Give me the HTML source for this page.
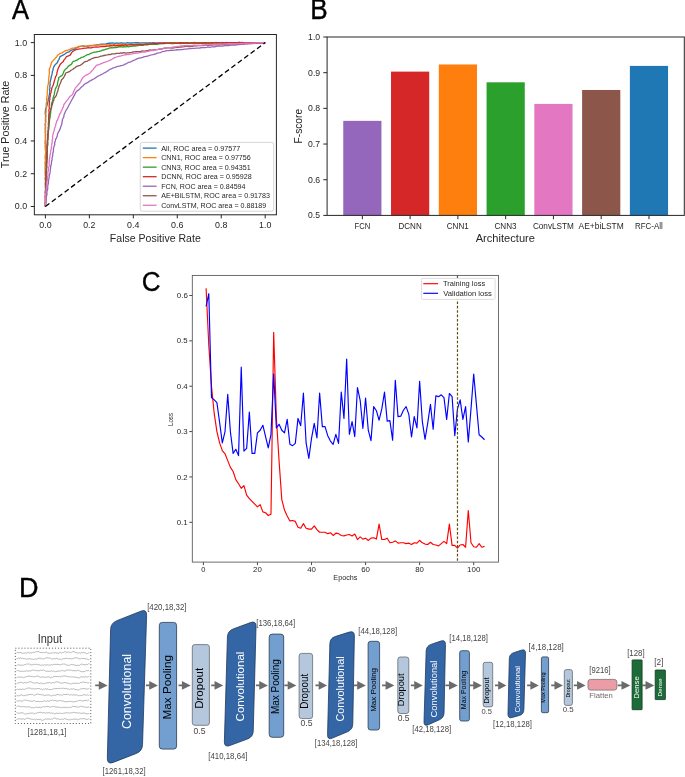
<!DOCTYPE html>
<html><head><meta charset="utf-8"><style>
html,body{margin:0;padding:0;background:#fff;width:685px;height:777px;overflow:hidden}
svg{display:block;font-family:"Liberation Sans",sans-serif;will-change:transform}
</style></head><body>
<svg width="685" height="777" viewBox="0 0 685 777">
<defs><clipPath id="clipA"><rect x="34.35" y="34.5" width="242.05" height="180.3"/></clipPath></defs>
<rect width="685" height="777" fill="#fff"/>
<text x="12.1" y="19.05" font-size="28.2" fill="#000" stroke="#000" stroke-width="0.5" textLength="17" lengthAdjust="spacingAndGlyphs">A</text>
<text x="310.26" y="19.2" font-size="29.07" fill="#000" stroke="#000" stroke-width="0.4" textLength="17.43" lengthAdjust="spacingAndGlyphs">B</text>
<text x="141.82" y="291.38" font-size="26.98" fill="#000" stroke="#000" stroke-width="0.3" textLength="18.82" lengthAdjust="spacingAndGlyphs">C</text>
<text x="18.88" y="596.8" font-size="27.76" fill="#000" stroke="#000" stroke-width="0.4" textLength="19.52" lengthAdjust="spacingAndGlyphs">D</text>
<line x1="30.75" y1="206.5" x2="34.35" y2="206.5" stroke="#262626" stroke-width="1"/>
<text x="14.86" y="209.42" font-size="8.48" fill="#262626" textLength="12.36" lengthAdjust="spacingAndGlyphs">0.0</text>
<line x1="45.4" y1="214.8" x2="45.4" y2="218.4" stroke="#262626" stroke-width="1"/>
<text x="39.22" y="228.12" font-size="8.48" fill="#262626" textLength="12.36" lengthAdjust="spacingAndGlyphs">0.0</text>
<line x1="30.75" y1="173.72" x2="34.35" y2="173.72" stroke="#262626" stroke-width="1"/>
<text x="14.86" y="176.64" font-size="8.48" fill="#262626" textLength="12.17" lengthAdjust="spacingAndGlyphs">0.2</text>
<line x1="89.36" y1="214.8" x2="89.36" y2="218.4" stroke="#262626" stroke-width="1"/>
<text x="83.19" y="228.12" font-size="8.48" fill="#262626" textLength="12.17" lengthAdjust="spacingAndGlyphs">0.2</text>
<line x1="30.75" y1="140.94" x2="34.35" y2="140.94" stroke="#262626" stroke-width="1"/>
<text x="14.86" y="143.86" font-size="8.48" fill="#262626" textLength="12.35" lengthAdjust="spacingAndGlyphs">0.4</text>
<line x1="133.32" y1="214.8" x2="133.32" y2="218.4" stroke="#262626" stroke-width="1"/>
<text x="127.14" y="228.12" font-size="8.48" fill="#262626" textLength="12.35" lengthAdjust="spacingAndGlyphs">0.4</text>
<line x1="30.75" y1="108.16" x2="34.35" y2="108.16" stroke="#262626" stroke-width="1"/>
<text x="14.86" y="111.08" font-size="8.48" fill="#262626" textLength="12.43" lengthAdjust="spacingAndGlyphs">0.6</text>
<line x1="177.28" y1="214.8" x2="177.28" y2="218.4" stroke="#262626" stroke-width="1"/>
<text x="171.1" y="228.12" font-size="8.48" fill="#262626" textLength="12.43" lengthAdjust="spacingAndGlyphs">0.6</text>
<line x1="30.75" y1="75.38" x2="34.35" y2="75.38" stroke="#262626" stroke-width="1"/>
<text x="14.86" y="78.3" font-size="8.48" fill="#262626" textLength="12.38" lengthAdjust="spacingAndGlyphs">0.8</text>
<line x1="221.24" y1="214.8" x2="221.24" y2="218.4" stroke="#262626" stroke-width="1"/>
<text x="215.06" y="228.12" font-size="8.48" fill="#262626" textLength="12.38" lengthAdjust="spacingAndGlyphs">0.8</text>
<line x1="30.75" y1="42.6" x2="34.35" y2="42.6" stroke="#262626" stroke-width="1"/>
<text x="14.88" y="45.52" font-size="8.48" fill="#262626" textLength="12.33" lengthAdjust="spacingAndGlyphs">1.0</text>
<line x1="265.2" y1="214.8" x2="265.2" y2="218.4" stroke="#262626" stroke-width="1"/>
<text x="259.04" y="228.12" font-size="8.48" fill="#262626" textLength="12.33" lengthAdjust="spacingAndGlyphs">1.0</text>
<text transform="translate(8.91,168.24) rotate(-90)" x="0" y="0" font-size="10.39" fill="#262626" textLength="87.52" lengthAdjust="spacingAndGlyphs">True Positive Rate</text>
<text x="109.85" y="242.11" font-size="10.39" fill="#262626" textLength="90.93" lengthAdjust="spacingAndGlyphs">False Positive Rate</text>
<g clip-path="url(#clipA)">
<polyline points="45.4,206.5 45.4,204.96 45.4,203.43 45.4,201.89 45.4,200.35 45.4,198.82 45.24,197.31 45.32,195.81 45.48,193.95 45.11,192.87 45.26,190.97 45.7,189.58 45.6,188.05 45.48,186.32 45.48,185.21 45.41,183.6 45.5,181.65 45.55,180.43 45.28,178.56 45.62,177.29 45.53,176 45.53,174.48 45.34,172.88 45.37,171.42 45.63,169.38 45.18,167.92 45.68,166.51 45.48,164.89 45.4,163.41 45.31,161.99 45.45,160.65 45.51,159.12 45.4,157.33 45.61,156.09 45.5,154.07 45.62,153.02 45.64,151.25 45.53,149.51 45.6,148.2 45.27,146.36 45.61,145.39 45.15,143.74 45.35,141.82 45.28,140.66 45.62,138.7 45.47,137.17 45.53,135.81 45.63,134.67 45.4,133.15 45.29,131.07 45.46,129.51 45.22,128.21 45.47,126.53 45.13,125.43 45.29,123.95 45.64,122.07 45.38,120.63 45.49,119.14 45.44,117.63 45.66,116.03 45.36,114.63 45.24,112.85 45.4,111.44 45.51,108.9 46.54,107.16 47,105.41 47.43,103.55 47.74,102.32 48.19,100.7 48.18,99.13 48.83,97.16 49.11,95.77 49.42,94.06 49.6,92.51 49.81,91.15 49.48,89.24 49.96,88.28 49.79,86.48 50.08,84.9 50.03,83.39 50.19,82 50.56,80.06 51.09,78 51.31,76.43 51.92,74.71 52.13,73.64 52.31,71.83 52.94,70.33 53.09,68.99 53.66,67.15 54.61,65.38 56.17,63.7 57.49,62.5 57.99,60.95 58.9,59.56 59.52,57.95 59.91,56.7 61.56,55.88 63.4,54.89 65.03,54.04 66.03,53.03 67.61,52.25 69.18,51.82 70.39,50.8 71.57,50.03 73.32,49.63 74.69,48.82 75.66,48.16 77.43,47.52 78.53,46.98 80,46.4 81.6,46.22 83.55,45.93 84.65,46.28 86.83,46.17 88.21,46.02 90.16,45.45 91.7,45.69 93.3,45.36 94.86,45.22 96.27,44.93 97.77,44.57 99.52,44.5 101.2,44.16 102.55,44.24 104.44,44.07 106.1,43.9 107.73,43.42 109.14,43.09 110.38,43.23 112,42.96 113.83,43.09 115.21,43.33 116.85,42.96 118.17,43.27 119.83,43.21 121.29,42.85 122.92,43.22 124.24,43.2 126.21,43.2 127.68,42.71 129.1,43.22 130.28,42.85 131.94,43 133.56,42.96 135.3,42.67 136.4,42.74 137.97,42.7 140.01,43.16 141,42.94 142.67,42.82 144.31,42.93 145.75,43.01 147.41,42.84 148.7,42.81 150.19,42.94 152.07,42.83 153.22,42.71 154.92,42.96 156.69,42.82 158.23,42.96 159.53,42.81 161.1,43 162.58,42.99 164.13,42.72 165.7,42.98 166.95,42.81 168.69,43.08 170.52,42.77 172.02,43.02 173.17,42.82 174.61,43.02 176.46,43.06 178.07,42.93 179.56,42.86 180.71,42.87 182.17,42.6 184.16,42.54 185.28,42.56 187.28,42.61 188.29,43 189.87,43 191.73,42.99 193.43,42.83 194.86,42.5 196.37,42.78 197.86,42.53 199.26,42.76 200.94,43.02 202.06,42.65 203.9,42.95 205.24,42.56 206.78,42.81 208.61,42.68 209.91,42.68 211.44,42.68 212.81,42.73 214.88,42.67 216.28,42.52 217.78,42.87 219.3,42.72 220.72,42.8 222.5,42.5 223.55,42.85 225.58,42.71 226.83,42.83 228.21,42.55 229.75,42.74 231.35,42.52 233.11,42.95 234.41,42.8 236.01,42.88 237.65,42.53 238.96,42.38 240.65,42.59 242,42.57 243.73,42.65 245.26,42.65 246.8,42.65 248.33,42.64 249.87,42.64 251.4,42.63 252.93,42.63 254.47,42.63 256,42.62 257.53,42.62 259.07,42.62 260.6,42.61 262.13,42.61 263.67,42.6 265.2,42.6" fill="none" stroke="#1f77b4" stroke-width="1.3" stroke-linejoin="round"/>
<polyline points="45.4,206.5 45.4,204.99 45.4,203.47 45.4,201.96 45.4,200.44 45.4,198.93 45.29,197.58 45.19,196.19 45.39,194.44 45.38,193.07 45.59,191.39 45.39,189.97 45.61,188.26 45.54,187.09 45.38,185.13 45.24,183.91 45.51,182.54 45.61,180.6 45.21,179.09 45.21,177.84 45.62,176.45 45.25,174.91 45.29,173.13 45.54,171.42 45.16,170.35 45.28,168.55 45.45,167.22 45.1,165.51 45.36,164.08 45.23,162.63 45.67,161 45.43,159.32 45.26,158.13 45.17,156.75 45.4,155 45.65,153.26 45.66,151.93 45.56,150.66 45.28,149.11 45.49,147.69 45.26,146.15 45.68,144.6 45.42,142.77 45.4,141.41 45.53,140.11 45.44,138.31 45.49,137.08 45.21,135.73 45.49,133.77 45.4,132.5 45.7,130.69 45.37,129.45 45.57,127.76 45.63,126.11 45.47,124.35 45.36,123.08 45.8,121.39 45.83,119.68 45.58,118.11 45.98,116.31 45.8,114.99 45.9,113.19 46.16,111.6 46,109.97 46.22,108.54 46.21,106.93 46.16,104.92 46.26,103.17 46.76,101.89 46.7,100.1 46.64,98.24 46.9,96.9 47.27,95.23 47.27,93.2 47.28,91.55 47.49,90.11 47.6,88.39 47.61,86.51 48.16,84.65 48.36,83.43 48.64,81.4 48.6,79.78 48.76,78 48.98,76.69 49.15,74.68 49.4,73.19 49.38,71.74 49.16,70.16 49.6,68.4 50.24,66.99 50.69,65.57 51.04,64.22 51.48,62.8 52.3,61.4 53.46,60.2 54.47,59.34 55.74,57.68 56.74,56.81 57.36,55.48 58.7,54.4 59.94,53.39 61.53,53.15 62.8,52.36 64.42,51.17 65.71,50.63 67.67,50.09 69.46,49.55 71.1,48.72 72.7,48.21 74.34,48.1 75.83,47.45 77.23,47.11 78.3,46.49 80,46.4 81.33,46.12 82.97,46.19 84.89,46.1 86.31,46.06 87.83,45.84 89.69,45.7 90.94,45.89 92.85,45.46 94.23,45.45 95.96,45.16 97.49,45.22 98.77,45.01 100.81,44.93 102.19,44.93 103.61,44.87 105.3,44.83 106.64,44.76 108.3,44.95 109.81,44.63 111.61,44.83 113.34,44.57 114.73,44.74 116.08,45.05 117.93,44.73 119.32,44.47 121.02,44.49 122.66,44.58 123.91,44.38 125.83,44.5 127.42,44.59 129.05,44.48 130.2,44.44 132.09,44.63 133.36,44.29 135.11,44.8 136.61,44.2 137.82,44.23 139.46,44.18 140.94,44.53 143,44.24 144.31,44.4 146.16,44.31 147.63,44.49 149.28,43.88 150.47,44.14 152.43,43.75 153.61,44.12 155.07,43.76 156.77,43.86 158.7,43.47 160.15,43.72 161.78,43.53 163.4,43.34 164.67,43.18 166.29,43.26 168.03,43.23 169.29,43.03 171.13,43.27 172.7,43.13 174.13,42.97 175.84,42.88 177.26,43.3 178.96,42.89 180.26,43.32 182.08,43.33 183.78,43.05 185.37,43.21 186.6,42.97 188.01,42.98 190.11,42.78 191.45,42.77 192.73,43.08 194.39,42.7 195.91,43.05 197.74,42.65 199.26,42.93 200.63,43.2 202.16,42.95 203.81,43.07 205.46,43.07 206.95,42.7 208.27,42.63 210.19,42.64 211.24,43.15 212.88,43.1 214.35,42.83 215.96,43.04 217.73,42.92 219.35,43.05 220.64,42.88 222.23,42.58 224,42.86 225.52,42.62 226.89,42.77 228.53,42.53 229.84,42.77 231.21,42.8 233.14,42.71 234.62,42.82 235.89,42.66 237.89,42.64 239.09,42.48 240.49,42.52 242.46,42.85 243.73,42.71 245.26,42.7 246.8,42.69 248.33,42.68 249.87,42.68 251.4,42.67 252.93,42.66 254.47,42.65 256,42.65 257.53,42.64 259.07,42.63 260.6,42.62 262.13,42.62 263.67,42.61 265.2,42.6" fill="none" stroke="#ff7f0e" stroke-width="1.3" stroke-linejoin="round"/>
<polyline points="45.4,206.5 45.44,204.94 45.48,203.38 45.53,201.82 45.57,200.26 45.61,198.7 45.88,197.43 45.76,195.83 45.76,193.96 46.05,192.69 46.09,190.88 46.02,189.27 46.2,188.02 45.82,186.47 45.8,184.4 46.16,182.96 46.08,181.61 45.84,180.11 46.02,178.36 46.1,176.99 46.39,175.15 46.28,173.72 46.1,172.04 46.35,170.35 46.25,169.2 46.64,167.77 46.87,166.15 46.57,164.16 46.59,162.78 46.78,161.27 46.74,159.89 46.75,158.1 47.18,156.75 47,155 46.96,153.35 47.35,151.71 47.02,150.52 47.34,148.8 47.13,147.32 47.64,145.98 47.85,144.67 47.93,142.72 47.53,141.21 47.76,139.9 47.61,138.53 47.71,136.89 47.88,135.68 48.06,133.86 48.19,132.5 48.1,130.87 48.63,129.42 48.98,127.91 48.77,125.92 49.26,124.72 49.29,123.15 49.5,121.23 49.45,119.48 49.91,118.42 50.25,116.57 50.19,114.99 50.48,113.75 50.76,112.06 50.71,110.51 50.75,108.81 51.25,107.79 51.36,105.94 51.43,104.47 51.71,103 52.31,101.52 52.83,99.89 52.87,98.66 53.4,97.2 53.71,95.89 54.32,94.42 54.55,92.36 54.89,91.15 55.2,89.61 55.96,87.7 56.87,86.31 57.51,84.3 57.57,82.72 58.03,80.95 58.64,79.54 58.7,77.59 60.39,76.41 61.91,75.59 62.96,73.87 63.43,72.73 64.19,70.87 65.09,69.48 66.81,68.3 68,66.59 69.63,65.38 71.49,64.3 72.26,62.63 73.29,61.4 75.2,60.94 77.4,59.91 78.45,58.99 80,58.4 81.27,57.42 82.91,57.1 84.55,56.3 85.8,55.5 87.46,54.65 88.6,54.68 89.94,53.71 91.65,53.16 93.15,52.48 94.59,52.2 96.02,52.11 97.55,51.72 99.16,51.4 101.04,50.83 102.31,50.11 104.11,50.01 105.96,49.21 107.32,49 109.21,48.21 111.19,47.72 113,47.79 114.41,47.31 116.18,47.62 118,47.11 119.37,46.8 120.79,46.71 122.41,47.09 123.75,46.57 125.76,46.96 127.29,46.43 128.41,46.76 130,46.4 131.58,46.36 133.07,45.78 134.68,46.05 136.53,45.77 137.93,45.59 139.51,45.42 141.33,45.05 142.78,45.32 144.31,44.89 146.09,44.6 147.73,44.89 148.82,44.44 150.41,44.2 152.45,44.31 153.95,44.03 155.01,44.38 157.05,44.35 158.55,43.96 160.17,43.6 161.6,43.7 162.94,43.69 164.61,43.53 166.29,43.42 167.78,43.29 169.35,43.45 171.29,43.63 172.79,43.56 174.01,43.63 175.57,43.1 177.28,43.45 178.75,43.38 180.29,43.56 181.96,43.25 183.58,43.47 185.42,43.25 186.66,43.29 188.01,43.16 190.05,43.35 191.15,43.38 192.91,43.44 194.47,42.97 196.15,43.35 197.65,43.33 199.26,43.09 200.92,43 202.21,43.07 203.8,42.98 205.48,43.27 206.98,42.82 208.29,42.95 210.06,42.8 211.28,42.89 212.93,42.71 214.62,43.23 216.15,43.11 217.86,43.16 219.44,42.91 220.84,42.7 222.49,42.85 223.78,43.14 225.2,42.71 227.06,42.95 228.15,42.59 229.84,42.57 231.66,42.66 232.86,42.77 234.54,42.79 236.14,42.91 237.56,42.56 239.42,42.91 240.41,42.75 242.35,43.07 243.73,42.76 245.26,42.75 246.8,42.74 248.33,42.73 249.87,42.71 251.4,42.7 252.93,42.69 254.47,42.68 256,42.67 257.53,42.66 259.07,42.65 260.6,42.63 262.13,42.62 263.67,42.61 265.2,42.6" fill="none" stroke="#2ca02c" stroke-width="1.3" stroke-linejoin="round"/>
<polyline points="45.4,206.5 45.43,204.94 45.46,203.38 45.49,201.82 45.53,200.26 45.56,198.7 45.33,196.84 45.61,195.53 45.89,194.21 45.58,192.4 45.76,191.12 45.57,189.26 45.53,187.85 45.52,186.47 45.85,184.69 45.62,182.93 45.88,181.74 45.96,179.83 46.25,178.5 46.01,176.66 45.91,175.52 46.06,173.72 45.92,172.18 46.29,170.51 46.46,169.29 46.59,167.62 46.28,165.66 46.49,164.25 46.43,163.02 46.52,161.44 47.03,159.45 47.1,158.06 46.75,156.37 47,155 46.77,153.46 47.02,152.13 47.33,150.11 47.11,148.77 47.02,147.15 47.11,145.88 47.29,144.22 47.32,142.31 47.38,140.84 47.72,139.04 47.93,137.35 48.04,135.91 47.87,134.32 48.19,132.5 48.18,130.93 48.36,129.39 48.32,127.46 48.59,126.35 48.47,124.59 48.39,123.19 48.69,121.19 48.83,120.06 48.6,118.47 48.74,116.39 48.81,114.99 49.01,113.35 49.08,111.96 48.78,110.38 49.29,108.81 49.18,107.5 49.19,105.73 49.29,104.19 49.49,102.74 49.41,100.65 49.9,99.28 49.77,97.83 50.27,95.97 50.19,94.29 50.99,92.73 51.35,90.64 51.71,89 51.99,87.51 52.99,85.71 53.41,84.23 53.99,82.59 54.25,81.18 54.84,79.46 55.2,78 55.67,76.54 56.61,75 56.94,72.98 57.49,70.69 57.9,69.18 58.52,67.74 59.35,66.11 59.91,64.89 60.8,63.73 62.06,62.6 63.4,61.45 64.17,59.62 65.36,58.53 66.3,56.7 68.57,55.8 70.39,54.89 71.48,52.91 72.7,51.45 74.31,50.46 76.19,49.7 78.36,49.07 80,48.89 81.89,48.68 83.2,48.35 85.14,48.11 86.53,48.11 87.92,47.74 90.02,47.88 91.49,47.75 92.73,47.43 94.59,47.11 96.37,46.82 97.81,47.14 99.36,46.89 100.89,46.71 102.57,46.49 104.26,46.59 106.11,46.24 107.7,46.07 109.21,45.99 110.99,45.76 112.43,45.88 113.94,45.47 115.41,45.74 117.03,45.73 118.81,45.76 120.61,45.54 121.93,45.04 123.64,45.38 125.46,44.97 126.6,45.35 128.55,44.97 130,44.89 131.73,44.63 133.21,44.89 134.83,44.53 136.14,44.75 138.18,44.4 139.24,44.32 141.3,44.45 142.69,44.75 144.31,44.4 145.95,44.17 147.57,43.92 148.89,44.24 150.39,43.75 152.17,43.83 154.01,43.6 155.48,43.68 157.05,43.62 158.54,43.46 159.84,43.44 161.76,43.28 162.99,43.23 164.48,43.07 166.29,43.09 167.9,43.11 169.49,42.95 170.71,42.78 172.47,42.88 174.18,42.91 175.87,43.11 177.38,43.18 178.86,42.99 180.31,42.76 182.17,43.01 183.32,43.26 185.18,43.07 186.66,42.77 188.57,42.78 189.76,43.27 191.18,42.97 192.97,42.81 194.8,42.9 195.83,42.93 197.39,43.06 199.26,42.93 201.01,43.16 202.06,43.02 203.74,42.89 205.27,42.78 206.71,42.97 208.21,43.16 209.72,43.15 211.34,42.62 213.21,42.88 214.76,42.86 216.21,42.59 217.77,42.84 219.47,42.53 220.47,42.93 222.52,42.77 223.92,42.84 225.26,42.78 226.92,42.51 228.28,42.93 229.78,42.76 231.32,42.68 233.09,42.91 234.8,42.74 235.89,42.65 237.33,42.58 239.18,42.8 240.51,42.53 241.96,42.52 243.73,42.71 245.26,42.7 246.8,42.69 248.33,42.68 249.87,42.68 251.4,42.67 252.93,42.66 254.47,42.65 256,42.65 257.53,42.64 259.07,42.63 260.6,42.62 262.13,42.62 263.67,42.61 265.2,42.6" fill="none" stroke="#d62728" stroke-width="1.3" stroke-linejoin="round"/>
<polyline points="45.4,206.5 45.56,205 45.73,203.5 45.89,202 46.06,200.5 46.22,199 46.39,197.5 46.6,195.79 47.04,194.42 46.93,192.78 46.96,191.4 47.59,189.62 47.79,188 47.7,186.42 47.9,185.08 48.37,183.6 48.5,181.9 48.49,180.47 48.94,178.65 49.18,177.09 49.22,175.48 49.71,174.09 50.1,172.19 50.31,170.96 50.3,169.2 50.7,167.91 50.62,166.21 51.34,164.24 51.42,163.16 51.51,161.52 52.14,159.69 51.95,157.99 52.63,156.53 52.7,155 52.82,153.3 53.42,151.52 53.4,150 53.47,148.53 54.01,146.45 54.77,144.65 54.59,143.27 55.2,141.3 55.62,139.38 56.61,137.64 57.16,135.95 57.49,134.3 58.1,132.66 58.97,131.39 59.6,129.88 60.39,128.4 60.72,126.85 61.55,125.05 61.93,122.9 62.19,121.4 62.49,119.62 62.89,118.48 63.79,116.85 64,114.99 64.8,113.1 65.49,111.4 66.3,110 67.51,108.12 68.11,106.8 69.2,104.8 69.9,103.45 70.84,101.69 71.59,100.23 72.7,98.39 73.51,96.68 74.54,95.2 75.17,93.3 76.19,91.9 77.4,90.65 78.75,89.87 79.69,89 80.65,87.81 81.78,86.72 83.2,85.69 84.23,84.53 85.49,83.57 86.87,82.95 88.22,82.14 89.64,80.96 90.83,80.6 92.4,79.52 93.81,79.01 95.18,78 96.6,77.09 98.08,76.04 99.67,75.49 101.13,74.64 102.6,73.97 104.11,73 105.37,72.44 106.77,71.52 108.25,70.63 109.75,69.35 111.37,68.96 112.79,67.91 114.62,67.69 116.32,66.76 117.58,66.35 119.43,66.12 120.9,65.71 122.56,65.29 124.23,64.61 125.68,63.94 126.72,63.54 128.24,62.46 130,62.1 131.84,61.23 133.38,60.34 134.75,60.01 136.28,59.15 138.2,58.4 139.92,57.87 141.24,57.83 142.64,57.49 144.15,56.68 145.3,56.63 147.22,56.08 148.4,55.89 149.92,55.23 151.55,54.97 152.83,54.67 154.07,54.26 155.94,53.9 157.1,53.08 158.71,52.79 160.28,52.53 162.22,51.73 164.04,51.41 165.81,50.8 167.36,50.57 169.29,50.71 170.67,50.16 172.71,50.43 174.17,50.11 176.06,50 177.27,49.68 179.1,49.8 180.71,49.67 182.42,49.7 184.29,49.22 186,49.12 187.67,48.88 189.3,48.7 191.06,48.59 192.98,48.32 194.7,48.28 196.48,48.05 198.01,48.21 199.76,47.99 201.65,47.67 203.14,47.44 205.08,47.53 206.8,47.3 208.04,46.98 209.71,47.32 211.4,46.96 212.85,46.88 214.7,46.76 215.76,46.49 217.6,46.13 219.32,46.17 220.56,46.22 222.28,46.01 223.99,45.9 225.22,45.5 226.89,45.55 228.41,45.5 229.96,45.29 231.18,44.98 232.8,44.89 234.75,45.07 235.91,45.02 237.68,44.51 239.29,44.49 240.97,44.32 242.07,44.26 243.74,44.29 245.27,44.17 246.8,44.05 248.34,43.93 249.87,43.81 251.4,43.69 252.94,43.57 254.47,43.45 256,43.33 257.53,43.2 259.07,43.08 260.6,42.96 262.13,42.84 263.67,42.72 265.2,42.6" fill="none" stroke="#9467bd" stroke-width="1.3" stroke-linejoin="round"/>
<polyline points="45.4,206.5 45.44,204.94 45.48,203.38 45.53,201.82 45.57,200.26 45.61,198.7 45.87,197.33 45.74,195.36 45.69,194.13 45.51,192.7 46.02,191.15 45.98,189.4 46.19,187.63 45.83,185.98 45.79,184.83 45.79,183.23 46.01,181.75 46.27,180.08 46.36,178.13 46.05,176.76 46.19,175.38 46.28,173.72 46.57,172.3 46.66,170.72 46.37,169.05 46.67,167.67 46.5,165.83 46.71,164.2 46.93,162.5 46.85,161.23 46.64,159.72 46.87,158.4 47.17,156.61 47,155 47.27,153.69 46.89,152.11 47.33,150.67 47.32,148.77 47.03,147.38 47.08,145.9 47.29,144.2 47.46,142.73 47.46,140.74 47.92,139.28 47.73,137.55 47.9,135.93 48.07,134.04 48.19,132.5 48.56,131.14 48.51,129.18 48.25,127.86 48.71,126.23 48.43,124.67 48.7,122.88 48.82,121.33 48.94,119.92 49.22,117.94 49.05,116.85 49.09,114.99 49.91,112.41 50.45,110.98 51.02,109.17 51.43,108.05 51.71,106.5 52.22,104.77 52.69,103.03 53.1,101.49 53.8,100.2 53.99,98.39 55.18,97.04 56.39,95.39 56.78,93.89 57.11,92.57 57.93,91 57.99,89.51 58.7,87.8 58.99,86.22 59.85,84.29 60.39,83.17 61.09,81.2 61.6,79.69 63.4,78 64.36,76.25 65.18,74.61 65.71,73 67.5,72.43 69.8,71.3 70.99,70.25 72.7,69.5 74.03,68.3 75.06,67.78 76.19,66.59 78.15,65.91 80,65.4 81.62,64.5 82.97,63.28 84.39,62.1 85.74,61.42 87.6,61.13 88.46,60.03 90.06,59.76 91.5,58.76 93.29,58.13 94.59,57.7 96.46,57.3 98,57.15 99.17,56.77 100.89,56.06 102.25,55.99 104.11,55.5 105.69,55.11 107.41,54.77 108.72,54.43 110.22,54.63 111.86,53.92 113.25,53.94 114.82,53.81 116.51,53.3 117.74,53.45 119.58,53.34 120.92,52.81 122.31,53.07 123.72,52.68 125.67,53.06 127.22,52.96 128.53,52.9 130,52.6 131.65,52.44 133.02,51.93 134.35,51.87 136.11,51.61 137.95,51.69 139.34,51.69 140.57,51.49 142.54,50.93 143.57,51.06 145.57,50.86 146.81,50.56 148.4,50.3 149.75,49.95 151.51,50.07 152.9,49.99 154.45,49.82 156.15,49.54 158.08,49.43 159.46,49.09 160.93,48.98 162.41,48.82 164.28,48.13 165.81,48.21 167.6,47.97 168.61,47.81 170.12,47.7 172.06,48 173.55,47.79 175.2,47.58 176.47,47.18 177.86,47.23 179.43,47.22 181.03,47 182.7,46.9 184.2,46.7 185.53,46.44 187.38,46.3 188.91,46.64 190.27,46.53 191.94,46.41 193.42,46.18 195.05,45.74 196.48,45.86 198.01,45.7 199.54,45.71 201.36,45.71 202.86,45.24 204.35,45.45 206.05,44.99 207.14,45.5 208.82,45.25 210.51,44.99 211.97,45 213.85,44.91 215.29,44.69 216.8,44.79 218.38,44.87 219.53,44.84 221.41,44.34 222.88,44.16 224.29,44.52 226.13,44.46 227.36,43.92 229.05,44.07 230.8,43.87 232.23,43.91 233.94,43.9 235.24,43.96 236.68,43.78 238.32,43.39 240.07,43.61 241.72,43.46 243.22,43.47 244.79,43.41 246.36,43.35 247.93,43.29 249.5,43.22 251.07,43.16 252.64,43.1 254.21,43.04 255.78,42.97 257.35,42.91 258.92,42.85 260.49,42.79 262.06,42.72 263.63,42.66 265.2,42.6" fill="none" stroke="#8c564b" stroke-width="1.3" stroke-linejoin="round"/>
<polyline points="45.4,206.5 45.44,204.92 45.48,203.35 45.52,201.77 45.55,200.2 45.59,198.62 45.89,197.22 45.46,195.17 45.71,193.9 46.16,192.3 45.82,190.62 46.35,189.07 46.33,187.83 46.49,186.27 47.02,184.81 47.01,183.17 46.99,181.63 47.37,180.05 47.45,178.61 47.45,177.04 48.09,175.09 47.83,174.12 47.9,172.47 48.37,170.48 48.5,169.2 48.77,167.32 49.08,165.92 49.32,164.7 49.03,162.83 49.23,161.47 49.38,159.48 49.59,158.37 49.85,156.47 50.19,155 50.41,153.43 50.65,152.07 50.85,150.19 51.42,148.45 51.26,147.2 51.71,145.4 51.78,143.97 52.27,141.99 52.16,140.16 52.67,138.7 52.53,136.87 52.81,135.4 53.07,134.04 53.44,132.26 54.16,130.66 54.52,129 54.76,127.67 55.61,125.93 55.8,124.3 56.23,123 56.78,121 57.62,119.85 58.17,117.86 59,116.34 59.29,114.99 59.92,113.91 60.92,112.4 61.21,111.09 62.19,109.5 62.71,107.74 63.52,106.81 63.65,105.05 64.5,103.6 65.68,102.22 66.26,101.21 67.29,100.06 68.48,98.69 69.2,97.2 70.49,96.04 71.65,95.31 72.7,94.29 73.27,92.86 73.74,91.16 74.68,89.79 75.01,88.39 75.94,87.38 77.35,85.9 78.42,84.29 79.69,83.2 80.39,81.95 81.16,80.54 81.98,79.08 82.9,77.4 84.16,76.48 85.59,75.43 87.29,74.68 88.76,73.71 90.2,73 91.07,71.68 92.41,70.32 93.1,69.57 94.18,67.99 95.42,66.69 96.11,65.71 97.34,64.87 98.96,64.82 100.31,63.92 101.89,63.5 103.53,62.66 104.53,62.43 106.03,61.77 107.53,61.24 109.21,60.6 110.88,59.85 111.99,59.23 113.71,58.18 114.89,57.65 116.51,57.01 117.97,56.51 119.52,56.14 121.13,55.84 122.18,55.31 123.8,55.2 125.13,54.76 127.13,54.6 128.42,54.66 130,54.11 131.81,54.03 132.91,53.54 134.6,53.26 136.04,53 137.51,53.09 139.26,52.67 140.72,52.54 142.38,51.95 144,51.98 145.24,52.05 147.02,51.45 148.4,51.3 149.6,50.98 151.34,50.66 152.63,50.5 154.21,50.33 155.87,49.77 157.54,49.58 158.58,49.2 160.06,49.01 162.06,49.03 163.4,48.28 164.8,48.21 166.13,47.83 167.7,47.9 168.99,47.62 170.72,47.53 172.46,47.18 173.81,46.91 175.22,46.94 176.47,46.67 178.23,46.28 179.57,46.47 181.13,45.9 182.58,45.9 184.2,45.7 185.68,45.55 187.16,45.42 188.81,45.59 190.09,45.53 191.76,45.71 193.67,45.15 195.06,45.22 196.24,45.49 198.01,45.21 199.81,45.31 201.2,45.36 202.71,45.11 204.32,45.16 206,44.76 207.17,44.84 208.95,44.65 210.67,44.88 212.12,44.63 213.68,44.36 215.3,44.25 216.92,44.49 218.1,44.16 219.85,44.26 221.46,43.97 223.12,44.1 224.42,44.22 226.07,43.98 227.44,43.93 228.84,43.73 230.87,43.59 232.23,43.75 233.55,43.9 235.29,43.66 236.99,43.71 238.4,43.69 239.78,43.68 241.54,43.49 243.22,43.36 244.79,43.31 246.36,43.26 247.93,43.2 249.5,43.15 251.07,43.09 252.64,43.04 254.21,42.98 255.78,42.93 257.35,42.87 258.92,42.82 260.49,42.76 262.06,42.71 263.63,42.65 265.2,42.6" fill="none" stroke="#e377c2" stroke-width="1.3" stroke-linejoin="round"/>
<line x1="45.4" y1="206.5" x2="265.2" y2="42.6" stroke="#000" stroke-width="1.3" stroke-dasharray="5,3"/>
</g>
<rect x="34.35" y="34.5" width="242.05" height="180.3" rx="0" fill="none" stroke="#262626" stroke-width="1"/>
<rect x="140.3" y="142.4" width="133.4" height="68.8" rx="2" fill="#ffffff" stroke="#cccccc" stroke-width="0.8" fill-opacity="0.8"/>
<line x1="142.8" y1="148.1" x2="156.6" y2="148.1" stroke="#1f77b4" stroke-width="1.3"/>
<text x="161.24" y="150.56" font-size="6.89" fill="#262626" textLength="79.15" lengthAdjust="spacingAndGlyphs">All, ROC area = 0.97577</text>
<line x1="142.8" y1="157.63" x2="156.6" y2="157.63" stroke="#ff7f0e" stroke-width="1.3"/>
<text x="161.2" y="159.99" font-size="6.89" fill="#262626" textLength="89.63" lengthAdjust="spacingAndGlyphs">CNN1, ROC area = 0.97756</text>
<line x1="142.8" y1="167.16" x2="156.6" y2="167.16" stroke="#2ca02c" stroke-width="1.3"/>
<text x="161.2" y="169.52" font-size="6.89" fill="#262626" textLength="89.47" lengthAdjust="spacingAndGlyphs">CNN3, ROC area = 0.94351</text>
<line x1="142.8" y1="176.69" x2="156.6" y2="176.69" stroke="#d62728" stroke-width="1.3"/>
<text x="161.25" y="179.05" font-size="6.89" fill="#262626" textLength="90.4" lengthAdjust="spacingAndGlyphs">DCNN, ROC area = 0.95928</text>
<line x1="142.8" y1="186.22" x2="156.6" y2="186.22" stroke="#9467bd" stroke-width="1.3"/>
<text x="161.25" y="188.58" font-size="6.89" fill="#262626" textLength="84.25" lengthAdjust="spacingAndGlyphs">FCN, ROC area = 0.84594</text>
<line x1="142.8" y1="195.75" x2="156.6" y2="195.75" stroke="#8c564b" stroke-width="1.3"/>
<text x="161.24" y="198.21" font-size="6.89" fill="#262626" textLength="108.67" lengthAdjust="spacingAndGlyphs">AE+BiLSTM, ROC area = 0.91783</text>
<line x1="142.8" y1="205.28" x2="156.6" y2="205.28" stroke="#e377c2" stroke-width="1.3"/>
<text x="161.2" y="207.64" font-size="6.89" fill="#262626" textLength="105.01" lengthAdjust="spacingAndGlyphs">ConvLSTM, ROC area = 0.88189</text>
<rect x="343.25" y="120.85" width="38.2" height="94.55" rx="0" fill="#9467bd" stroke="none" stroke-width="0"/>
<line x1="362.35" y1="215.4" x2="362.35" y2="219.2" stroke="#262626" stroke-width="1"/>
<text x="354.51" y="228.88" font-size="8.37" fill="#262626" textLength="15.66" lengthAdjust="spacingAndGlyphs">FCN</text>
<rect x="391.02" y="71.61" width="38.2" height="143.79" rx="0" fill="#d62728" stroke="none" stroke-width="0"/>
<line x1="410.12" y1="215.4" x2="410.12" y2="219.2" stroke="#262626" stroke-width="1"/>
<text x="398.53" y="228.88" font-size="8.37" fill="#262626" textLength="23.17" lengthAdjust="spacingAndGlyphs">DCNN</text>
<rect x="438.79" y="64.47" width="38.2" height="150.93" rx="0" fill="#ff7f0e" stroke="none" stroke-width="0"/>
<line x1="457.89" y1="215.4" x2="457.89" y2="219.2" stroke="#262626" stroke-width="1"/>
<text x="446.74" y="228.88" font-size="8.37" fill="#262626" textLength="21.99" lengthAdjust="spacingAndGlyphs">CNN1</text>
<rect x="486.56" y="82.31" width="38.2" height="133.09" rx="0" fill="#2ca02c" stroke="none" stroke-width="0"/>
<line x1="505.66" y1="215.4" x2="505.66" y2="219.2" stroke="#262626" stroke-width="1"/>
<text x="494.51" y="228.88" font-size="8.37" fill="#262626" textLength="22.05" lengthAdjust="spacingAndGlyphs">CNN3</text>
<rect x="534.33" y="103.9" width="38.2" height="111.5" rx="0" fill="#e377c2" stroke="none" stroke-width="0"/>
<line x1="553.43" y1="215.4" x2="553.43" y2="219.2" stroke="#262626" stroke-width="1"/>
<text x="532.91" y="228.88" font-size="8.37" fill="#262626" textLength="40.96" lengthAdjust="spacingAndGlyphs">ConvLSTM</text>
<rect x="582.1" y="89.98" width="38.2" height="125.42" rx="0" fill="#8c564b" stroke="none" stroke-width="0"/>
<line x1="601.2" y1="215.4" x2="601.2" y2="219.2" stroke="#262626" stroke-width="1"/>
<text x="578.61" y="228.99" font-size="8.37" fill="#262626" textLength="45.16" lengthAdjust="spacingAndGlyphs">AE+biLSTM</text>
<rect x="629.87" y="65.9" width="38.2" height="149.5" rx="0" fill="#1f77b4" stroke="none" stroke-width="0"/>
<line x1="648.97" y1="215.4" x2="648.97" y2="219.2" stroke="#262626" stroke-width="1"/>
<text x="635.09" y="228.99" font-size="8.37" fill="#262626" textLength="27.69" lengthAdjust="spacingAndGlyphs">RFC-All</text>
<line x1="323.3" y1="215.4" x2="327.1" y2="215.4" stroke="#262626" stroke-width="1"/>
<text x="308.08" y="218.24" font-size="8.27" fill="#262626" textLength="11.9" lengthAdjust="spacingAndGlyphs">0.5</text>
<line x1="323.3" y1="179.72" x2="327.1" y2="179.72" stroke="#262626" stroke-width="1"/>
<text x="308.07" y="182.56" font-size="8.27" fill="#262626" textLength="12.12" lengthAdjust="spacingAndGlyphs">0.6</text>
<line x1="323.3" y1="144.04" x2="327.1" y2="144.04" stroke="#262626" stroke-width="1"/>
<text x="308.07" y="146.88" font-size="8.27" fill="#262626" textLength="11.99" lengthAdjust="spacingAndGlyphs">0.7</text>
<line x1="323.3" y1="108.36" x2="327.1" y2="108.36" stroke="#262626" stroke-width="1"/>
<text x="308.07" y="111.2" font-size="8.27" fill="#262626" textLength="12.07" lengthAdjust="spacingAndGlyphs">0.8</text>
<line x1="323.3" y1="72.68" x2="327.1" y2="72.68" stroke="#262626" stroke-width="1"/>
<text x="308.07" y="75.52" font-size="8.27" fill="#262626" textLength="12.09" lengthAdjust="spacingAndGlyphs">0.9</text>
<line x1="323.3" y1="37" x2="327.1" y2="37" stroke="#262626" stroke-width="1"/>
<text x="308.1" y="39.84" font-size="8.27" fill="#262626" textLength="12.03" lengthAdjust="spacingAndGlyphs">1.0</text>
<rect x="327.1" y="37" width="357.2" height="178.4" rx="0" fill="none" stroke="#262626" stroke-width="1"/>
<text transform="translate(301.95,143.5) rotate(-90)" x="0" y="0" font-size="10.18" fill="#262626" textLength="34.62" lengthAdjust="spacingAndGlyphs">F-score</text>
<text x="475.66" y="241.58" font-size="10.28" fill="#262626" textLength="59.31" lengthAdjust="spacingAndGlyphs">Architecture</text>
<line x1="189.3" y1="522.3" x2="192.3" y2="522.3" stroke="#333" stroke-width="0.9"/>
<text x="176.77" y="524.89" font-size="7.53" fill="#262626" textLength="10.86" lengthAdjust="spacingAndGlyphs">0.1</text>
<line x1="189.3" y1="476.94" x2="192.3" y2="476.94" stroke="#333" stroke-width="0.9"/>
<text x="176.77" y="479.53" font-size="7.53" fill="#262626" textLength="10.8" lengthAdjust="spacingAndGlyphs">0.2</text>
<line x1="189.3" y1="431.58" x2="192.3" y2="431.58" stroke="#333" stroke-width="0.9"/>
<text x="176.77" y="434.17" font-size="7.53" fill="#262626" textLength="10.9" lengthAdjust="spacingAndGlyphs">0.3</text>
<line x1="189.3" y1="386.22" x2="192.3" y2="386.22" stroke="#333" stroke-width="0.9"/>
<text x="176.77" y="388.81" font-size="7.53" fill="#262626" textLength="10.96" lengthAdjust="spacingAndGlyphs">0.4</text>
<line x1="189.3" y1="340.86" x2="192.3" y2="340.86" stroke="#333" stroke-width="0.9"/>
<text x="176.77" y="343.45" font-size="7.53" fill="#262626" textLength="10.84" lengthAdjust="spacingAndGlyphs">0.5</text>
<line x1="189.3" y1="295.5" x2="192.3" y2="295.5" stroke="#333" stroke-width="0.9"/>
<text x="176.77" y="298.09" font-size="7.53" fill="#262626" textLength="11.03" lengthAdjust="spacingAndGlyphs">0.6</text>
<line x1="203.4" y1="562.1" x2="203.4" y2="565.1" stroke="#333" stroke-width="0.9"/>
<text x="201.32" y="571.89" font-size="7.53" fill="#262626" textLength="4.16" lengthAdjust="spacingAndGlyphs">0</text>
<line x1="257.46" y1="562.1" x2="257.46" y2="565.1" stroke="#333" stroke-width="0.9"/>
<text x="253.07" y="571.89" font-size="7.53" fill="#262626" textLength="8.75" lengthAdjust="spacingAndGlyphs">20</text>
<line x1="311.52" y1="562.1" x2="311.52" y2="565.1" stroke="#333" stroke-width="0.9"/>
<text x="307.17" y="571.89" font-size="7.53" fill="#262626" textLength="8.7" lengthAdjust="spacingAndGlyphs">40</text>
<line x1="365.58" y1="562.1" x2="365.58" y2="565.1" stroke="#333" stroke-width="0.9"/>
<text x="361.16" y="571.89" font-size="7.53" fill="#262626" textLength="8.78" lengthAdjust="spacingAndGlyphs">60</text>
<line x1="419.64" y1="562.1" x2="419.64" y2="565.1" stroke="#333" stroke-width="0.9"/>
<text x="415.27" y="571.89" font-size="7.53" fill="#262626" textLength="8.73" lengthAdjust="spacingAndGlyphs">80</text>
<line x1="473.7" y1="562.1" x2="473.7" y2="565.1" stroke="#333" stroke-width="0.9"/>
<text x="467.1" y="571.89" font-size="7.53" fill="#262626" textLength="13.21" lengthAdjust="spacingAndGlyphs">100</text>
<text x="333.38" y="580.25" font-size="7.16" fill="#262626" textLength="24.05" lengthAdjust="spacingAndGlyphs">Epochs</text>
<text transform="translate(172.96,426.04) rotate(-90)" x="0" y="0" font-size="6.36" fill="#262626" textLength="13" lengthAdjust="spacingAndGlyphs">Loss</text>
<polyline points="206.1,288.24 208.81,345.4 211.51,386.22 214.21,413.44 216.91,431.58 219.62,442.92 222.32,450.63 225.02,453.81 227.73,460.61 230.43,467.41 233.13,471.5 235.84,479.66 238.54,483.74 241.24,488.28 243.94,485.56 246.65,495.08 249.35,498.71 252.05,501.43 254.76,504.16 257.46,506.88 260.16,504.61 262.87,511.87 265.57,512.77 268.27,515.5 270.98,514.14 273.68,332.24 276.38,417.97 279.08,461.06 281.79,499.62 284.49,510.05 287.19,515.95 289.9,520.94 292.6,520.49 295.3,521.39 298,527.29 300.71,528.2 303.41,523.66 306.11,528.2 308.82,529.1 311.52,529.1 314.22,525.93 316.93,529.56 319.63,532.28 322.33,532.28 325.03,532.28 327.74,533.64 330.44,532.73 333.14,535.45 335.85,533.19 338.55,533.64 341.25,535.45 343.96,535.91 346.66,535 349.36,534.55 352.06,535.91 354.77,534.09 357.47,539.54 360.17,536.82 362.88,539.08 365.58,538.18 368.28,540.44 370.99,538.18 373.69,537.72 376.39,539.08 379.1,524.11 381.8,539.54 384.5,539.54 387.2,538.18 389.91,542.71 392.61,542.26 395.31,540.9 398.02,543.17 400.72,542.71 403.42,542.71 406.12,543.62 408.83,543.17 411.53,544.53 414.23,542.71 416.94,543.17 419.64,540.44 422.34,542.71 425.05,544.07 427.75,544.53 430.45,542.26 433.15,544.53 435.86,544.98 438.56,545.89 441.26,543.62 443.97,541.35 446.67,543.62 449.37,524.11 452.08,545.43 454.78,545.43 457.48,548.16 460.18,544.98 462.89,544.53 465.59,547.25 468.29,510.51 471,542.71 473.7,546.79 476.4,547.25 479.11,543.62 481.81,547.25 484.51,546.34" fill="none" stroke="#ff0000" stroke-width="1.15" stroke-linejoin="round"/>
<polyline points="206.1,306.39 208.81,293.69 211.51,397.56 214.21,399.83 216.91,402.55 219.62,422.51 222.32,442.92 225.02,431.58 227.73,394.38 230.43,432.03 233.13,453.35 235.84,449.27 238.54,455.62 241.24,367.17 243.94,451.08 246.65,448.36 249.35,412.08 252.05,453.35 254.76,453.35 257.46,432.94 260.16,430.22 262.87,425.23 265.57,436.57 268.27,447.91 270.98,434.3 273.68,373.97 276.38,427.95 279.08,424.32 281.79,430.22 284.49,432.94 287.19,419.33 289.9,444.28 292.6,445.64 295.3,443.37 298,418.43 300.71,425.68 303.41,393.02 306.11,442.92 308.82,458.34 311.52,438.38 314.22,423.42 316.93,437.93 319.63,393.02 322.33,426.59 325.03,426.59 327.74,435.66 330.44,441.11 333.14,444.28 335.85,434.3 338.55,443.37 341.25,392.12 343.96,418.43 346.66,359 349.36,434.3 352.06,421.6 354.77,436.57 357.47,387.58 360.17,400.28 362.88,428.4 365.58,398.01 368.28,430.22 370.99,440.65 373.69,406.63 376.39,410.71 379.1,420.24 381.8,408.9 384.5,392.12 387.2,421.15 389.91,420.69 392.61,440.2 395.31,380.32 398.02,416.61 400.72,416.16 403.42,410.26 406.12,406.63 408.83,414.34 411.53,437.02 414.23,416.61 416.94,427.95 419.64,381.23 422.34,421.6 425.05,439.29 427.75,422.96 430.45,404.36 433.15,429.31 435.86,395.75 438.56,396.65 441.26,394.84 443.97,397.56 446.67,419.33 449.37,393.48 452.08,396.65 454.78,435.66 457.48,408.9 460.18,399.83 462.89,419.33 465.59,406.63 468.29,442.01 471,408.9 473.7,373.97 476.4,404.36 479.11,434.76 481.81,437.02 484.51,439.74" fill="none" stroke="#0000ff" stroke-width="1.15" stroke-linejoin="round"/>
<line x1="457.48" y1="275.4" x2="457.48" y2="562.1" stroke="#62520f" stroke-width="1.2" stroke-dasharray="2.6,1.75"/>
<rect x="192.3" y="275.4" width="306.2" height="286.7" rx="0" fill="none" stroke="#555" stroke-width="0.85"/>
<rect x="421.4" y="278.4" width="73.7" height="21" rx="1.5" fill="#ffffff" stroke="#d0d0d0" stroke-width="0.7"/>
<line x1="423.3" y1="283.7" x2="438" y2="283.7" stroke="#ff0000" stroke-width="1.15"/>
<line x1="423.3" y1="293.3" x2="438" y2="293.3" stroke="#0000ff" stroke-width="1.15"/>
<text x="443.02" y="286.16" font-size="7.19" fill="#262626" textLength="42.12" lengthAdjust="spacingAndGlyphs">Training loss</text>
<text x="443.22" y="295.87" font-size="7.19" fill="#262626" textLength="48.65" lengthAdjust="spacingAndGlyphs">Validation loss</text>
<text x="37.69" y="643.06" font-size="11.9" fill="#333333" textLength="24.39" lengthAdjust="spacingAndGlyphs">Input</text>
<rect x="15.3" y="648.2" width="75.5" height="75.3" rx="0" fill="none" stroke="#555" stroke-width="0.9" stroke-dasharray="1.1,1.95"/>
<polyline points="16.5,653.17 17.4,652.67 18.3,652.61 19.2,652.64 20.1,652.35 21,652.8 21.9,653.13 22.8,653.48 23.7,652.97 24.6,653.15 25.5,652.83 26.4,653.27 27.3,652.93 28.2,652.18 29.1,652.95 30,652.97 30.9,652.78 31.8,652.84 32.7,652.45 33.6,652.24 34.5,652.52 35.4,651.86 36.3,651.75 37.2,651.66 38.1,651.45 39,651.95 39.9,652.12 40.8,652.68 41.7,652.53 42.6,652.69 43.5,652.52 44.4,652.56 45.3,652.28 46.2,652.1 47.1,652.84 48,653.04 48.9,653.15 49.8,653.28 50.7,653.08 51.6,653.04 52.5,653.01 53.4,652.65 54.3,653.1 55.2,652.65 56.1,653.03 57,652.69 57.9,653.32 58.8,653.33 59.7,652.59 60.6,652.68 61.5,653.11 62.4,652.45 63.3,652.65 64.2,651.96 65.1,651.61 66,652.18 66.9,652.46 67.8,652.15 68.7,652.07 69.6,652.28 70.5,652.75 71.4,652.42 72.3,651.73 73.2,651.81 74.1,651.77 75,651.94 75.9,652.86 76.8,652.56 77.7,653.08 78.6,653.04 79.5,652.76 80.4,653.12 81.3,652.46 82.2,652.86 83.1,652.43 84,652.83 84.9,652.81 85.8,653 86.7,653.68 87.6,653.45 88.5,652.81 89.4,653.08" fill="none" stroke="#a0a0a0" stroke-width="0.75" stroke-linejoin="round"/>
<polyline points="16.5,658.82 17.4,658.6 18.3,658.01 19.2,658.67 20.1,657.87 21,657.9 21.9,658.48 22.8,658.3 23.7,658.54 24.6,658.58 25.5,658.75 26.4,659.23 27.3,658.85 28.2,659.04 29.1,658.72 30,658.75 30.9,659.26 31.8,658.96 32.7,659.21 33.6,659.6 34.5,659 35.4,658.87 36.3,659.34 37.2,658.99 38.1,658.24 39,658.03 39.9,658.49 40.8,658.73 41.7,658.18 42.6,658.95 43.5,658.91 44.4,658.57 45.3,658.24 46.2,657.77 47.1,657.56 48,658.35 48.9,657.79 49.8,658.41 50.7,658.26 51.6,659 52.5,658.94 53.4,658.7 54.3,658.53 55.2,658.92 56.1,658.26 57,658.4 57.9,658.81 58.8,659.27 59.7,659.27 60.6,659.14 61.5,659.77 62.4,659.06 63.3,658.71 64.2,658.71 65.1,658.66 66,658.18 66.9,658.26 67.8,658.5 68.7,658.78 69.6,658.46 70.5,658.64 71.4,658.99 72.3,658.85 73.2,658.32 74.1,658.16 75,657.99 75.9,657.63 76.8,657.7 77.7,657.89 78.6,658.88 79.5,658.8 80.4,659.04 81.3,658.11 82.2,658.56 83.1,658.36 84,658.61 84.9,658.38 85.8,659.22 86.7,658.65 87.6,659.28 88.5,659.56 89.4,659.68" fill="none" stroke="#a0a0a0" stroke-width="0.75" stroke-linejoin="round"/>
<polyline points="16.5,665.32 17.4,665.25 18.3,664.63 19.2,664.93 20.1,665.2 21,665.28 21.9,664.95 22.8,665.26 23.7,665.2 24.6,664.71 25.5,664.49 26.4,664.05 27.3,664.11 28.2,664.14 29.1,663.79 30,664.46 30.9,664.94 31.8,664.91 32.7,664.76 33.6,664.35 34.5,664.54 35.4,664.32 36.3,664.21 37.2,664.7 38.1,664.26 39,665.13 39.9,664.71 40.8,665.36 41.7,665.26 42.6,664.93 43.5,665.21 44.4,664.9 45.3,664.95 46.2,665.28 47.1,664.81 48,664.73 48.9,665.09 49.8,665.42 50.7,664.86 51.6,664.6 52.5,664.99 53.4,664.54 54.3,664.2 55.2,664.59 56.1,664.17 57,664.6 57.9,664.28 58.8,664.51 59.7,664.77 60.6,664.71 61.5,664.51 62.4,663.94 63.3,664.11 64.2,664 65.1,664.06 66,664.64 66.9,665.18 67.8,665.32 68.7,665.22 69.6,665.36 70.5,664.64 71.4,664.47 72.3,664.73 73.2,664.68 74.1,664.8 75,665.18 75.9,665.51 76.8,665.42 77.7,665.15 78.6,665.42 79.5,665.3 80.4,664.61 81.3,664.15 82.2,664.09 83.1,664.92 84,664.28 84.9,664.94 85.8,664.79 86.7,664.42 87.6,664.65 88.5,663.73 89.4,663.67" fill="none" stroke="#a0a0a0" stroke-width="0.75" stroke-linejoin="round"/>
<polyline points="16.5,670.84 17.4,670.55 18.3,670.73 19.2,670.86 20.1,671.49 21,671.3 21.9,671.35 22.8,671.21 23.7,671.22 24.6,671.31 25.5,671.11 26.4,670.8 27.3,671.18 28.2,670.99 29.1,670.81 30,671.07 30.9,671.04 31.8,670.29 32.7,670.15 33.6,670.1 34.5,670.42 35.4,670.37 36.3,670.59 37.2,670.82 38.1,670.51 39,670.78 39.9,670.73 40.8,669.84 41.7,670.51 42.6,670.34 43.5,669.95 44.4,670.48 45.3,670.91 46.2,671.38 47.1,671.02 48,671.19 48.9,671.38 49.8,671.19 50.7,671.25 51.6,670.83 52.5,671.11 53.4,670.88 54.3,671.53 55.2,671.73 56.1,671.57 57,671.51 57.9,670.83 58.8,671.19 59.7,671.05 60.6,670.94 61.5,670.54 62.4,670.86 63.3,670.54 64.2,671.12 65.1,671.04 66,670.44 66.9,670 67.8,670.11 68.7,670.08 69.6,670.25 70.5,670.11 71.4,669.91 72.3,670.85 73.2,670.37 74.1,671.13 75,670.55 75.9,670.61 76.8,670.92 77.7,670.3 78.6,670.36 79.5,670.85 80.4,671.27 81.3,671.6 82.2,671.62 83.1,671.89 84,671.39 84.9,671.62 85.8,670.63 86.7,670.58 87.6,670.78 88.5,670.6 89.4,671.09" fill="none" stroke="#a0a0a0" stroke-width="0.75" stroke-linejoin="round"/>
<polyline points="16.5,677.76 17.4,677.37 18.3,676.97 19.2,676.88 20.1,677.23 21,677.31 21.9,676.79 22.8,677.49 23.7,677.67 24.6,677.23 25.5,677.12 26.4,676.54 27.3,676.57 28.2,676.33 29.1,676.31 30,675.8 30.9,676.76 31.8,676.5 32.7,676.52 33.6,676.92 34.5,676.65 35.4,676.45 36.3,676.49 37.2,675.85 38.1,676.3 39,676.34 39.9,677.07 40.8,677.31 41.7,676.94 42.6,677.25 43.5,676.93 44.4,677.11 45.3,677.33 46.2,677.31 47.1,676.92 48,676.87 48.9,676.91 49.8,677.46 50.7,677.84 51.6,677.1 52.5,677.55 53.4,676.63 54.3,676.52 55.2,676.34 56.1,676.63 57,676.3 57.9,676.42 58.8,676.77 59.7,676.38 60.6,676.92 61.5,676.25 62.4,676.41 63.3,675.99 64.2,675.82 65.1,676.12 66,676.16 66.9,676.32 67.8,676.61 68.7,676.92 69.6,676.69 70.5,676.73 71.4,677.03 72.3,676.94 73.2,676.79 74.1,677.12 75,677.05 75.9,677.48 76.8,677.13 77.7,677.74 78.6,677.82 79.5,677.8 80.4,677.07 81.3,676.84 82.2,677.2 83.1,676.48 84,677.19 84.9,677.18 85.8,676.6 86.7,676.74 87.6,677.12 88.5,676.53 89.4,676.15" fill="none" stroke="#a0a0a0" stroke-width="0.75" stroke-linejoin="round"/>
<polyline points="16.5,683.71 17.4,682.98 18.3,682.99 19.2,682.98 20.1,682.15 21,682.19 21.9,682.61 22.8,682.9 23.7,683.07 24.6,682.39 25.5,682.74 26.4,682.87 27.3,682.47 28.2,682.46 29.1,681.89 30,681.78 30.9,681.93 31.8,682.09 32.7,682.81 33.6,683 34.5,683.17 35.4,682.8 36.3,682.76 37.2,682.67 38.1,683.17 39,683.33 39.9,683.4 40.8,682.85 41.7,683.02 42.6,683.97 43.5,683.55 44.4,683.72 45.3,683.12 46.2,683.01 47.1,682.85 48,682.67 48.9,682.82 49.8,682.37 50.7,683.08 51.6,683.27 52.5,682.63 53.4,682.73 54.3,682.76 55.2,682.23 56.1,681.88 57,681.8 57.9,682.2 58.8,681.93 59.7,682.94 60.6,683.04 61.5,683.04 62.4,683.17 63.3,682.87 64.2,682.57 65.1,682.69 66,682.66 66.9,683.26 67.8,683.34 68.7,683.09 69.6,683.86 70.5,683.78 71.4,683.75 72.3,683.63 73.2,683.07 74.1,683.36 75,683.28 75.9,683.15 76.8,683.32 77.7,683.42 78.6,683.15 79.5,683.38 80.4,682.62 81.3,682.61 82.2,682.46 83.1,681.85 84,682.08 84.9,682.38 85.8,682.5 86.7,682.31 87.6,683.07 88.5,682.86 89.4,682.5" fill="none" stroke="#a0a0a0" stroke-width="0.75" stroke-linejoin="round"/>
<polyline points="16.5,689.53 17.4,689.24 18.3,689.61 19.2,689.17 20.1,689.19 21,689.32 21.9,689.63 22.8,688.87 23.7,689.43 24.6,689.45 25.5,688.81 26.4,688.67 27.3,688.11 28.2,688.07 29.1,688.18 30,688 30.9,688.28 31.8,689.02 32.7,688.79 33.6,688.74 34.5,689.06 35.4,688.56 36.3,688.83 37.2,688.47 38.1,688.72 39,688.26 39.9,689 40.8,689.4 41.7,688.93 42.6,689.79 43.5,689.04 44.4,689.2 45.3,688.8 46.2,689.03 47.1,689.17 48,688.8 48.9,689.77 49.8,689.43 50.7,689.58 51.6,689.56 52.5,689.16 53.4,688.83 54.3,688.91 55.2,688.65 56.1,688.34 57,688.77 57.9,688.5 58.8,688.35 59.7,688.59 60.6,688.35 61.5,688.29 62.4,688.64 63.3,688.15 64.2,688.54 65.1,688.47 66,688.02 66.9,689.11 67.8,689.31 68.7,688.69 69.6,689.49 70.5,689.02 71.4,688.96 72.3,689.32 73.2,688.65 74.1,688.99 75,689.55 75.9,689.57 76.8,689.53 77.7,690.08 78.6,689.89 79.5,689.54 80.4,688.87 81.3,689.11 82.2,688.81 83.1,688.54 84,688.46 84.9,688.99 85.8,688.7 86.7,688.99 87.6,689.08 88.5,688.69 89.4,688.27" fill="none" stroke="#a0a0a0" stroke-width="0.75" stroke-linejoin="round"/>
<polyline points="16.5,695.83 17.4,695.6 18.3,695.9 19.2,695.69 20.1,695.36 21,694.85 21.9,694.78 22.8,695.6 23.7,695.64 24.6,695.57 25.5,695.3 26.4,695.08 27.3,695.21 28.2,694.83 29.1,694.63 30,694.54 30.9,694.65 31.8,694.24 32.7,694.44 33.6,695.21 34.5,695.18 35.4,695.07 36.3,694.17 37.2,694.04 38.1,694.13 39,694.29 39.9,694.61 40.8,694.38 41.7,695.04 42.6,694.84 43.5,694.98 44.4,695.51 45.3,695.31 46.2,695.27 47.1,694.95 48,695.05 48.9,694.91 49.8,695.2 50.7,695.74 51.6,695.94 52.5,695.25 53.4,695.16 54.3,695.56 55.2,695.13 56.1,695.05 57,694.43 57.9,694.61 58.8,694.54 59.7,695.15 60.6,694.81 61.5,695.04 62.4,695.22 63.3,694.42 64.2,694.42 65.1,694.46 66,694.59 66.9,694.26 67.8,694.41 68.7,694.41 69.6,695.31 70.5,694.7 71.4,694.7 72.3,695.05 73.2,694.88 74.1,695.01 75,694.71 75.9,695.29 76.8,694.88 77.7,695.24 78.6,695.8 79.5,695.32 80.4,695.43 81.3,695.62 82.2,695.38 83.1,694.83 84,694.62 84.9,694.83 85.8,695.25 86.7,695.03 87.6,694.85 88.5,695.32 89.4,695.03" fill="none" stroke="#a0a0a0" stroke-width="0.75" stroke-linejoin="round"/>
<polyline points="16.5,701.16 17.4,700.74 18.3,701.15 19.2,700.8 20.1,700.87 21,700.9 21.9,701.23 22.8,700.99 23.7,700.19 24.6,700.15 25.5,700.14 26.4,700.24 27.3,700.48 28.2,700.7 29.1,700.71 30,701.14 30.9,701.33 31.8,701.02 32.7,701.19 33.6,700.9 34.5,700.61 35.4,701.3 36.3,701.64 37.2,701.34 38.1,701.26 39,701.75 39.9,701.69 40.8,701.53 41.7,701.68 42.6,701.24 43.5,701.31 44.4,700.67 45.3,701.2 46.2,701.52 47.1,700.92 48,700.85 48.9,701.26 49.8,701.16 50.7,700.18 51.6,700.49 52.5,699.99 53.4,700.6 54.3,700.67 55.2,700.48 56.1,700.59 57,701.13 57.9,700.85 58.8,700.96 59.7,700.51 60.6,700.42 61.5,701.06 62.4,700.98 63.3,701.07 64.2,701.37 65.1,701.73 66,701.79 66.9,701.93 67.8,701.34 68.7,701.57 69.6,701.32 70.5,701.47 71.4,701.51 72.3,701.68 73.2,701.86 74.1,701.97 75,701.62 75.9,701.33 76.8,701.24 77.7,701.06 78.6,700.52 79.5,700.44 80.4,700.22 81.3,700.87 82.2,701.23 83.1,700.75 84,700.54 84.9,700.46 85.8,700.5 86.7,700.23 87.6,700.77 88.5,700 89.4,700.4" fill="none" stroke="#a0a0a0" stroke-width="0.75" stroke-linejoin="round"/>
<polyline points="16.5,706.94 17.4,706.18 18.3,705.93 19.2,706.27 20.1,706.49 21,706.98 21.9,706.42 22.8,706.66 23.7,706.81 24.6,706.82 25.5,706.74 26.4,707.08 27.3,706.93 28.2,706.67 29.1,706.81 30,707.14 30.9,707.28 31.8,707.97 32.7,707.6 33.6,707.73 34.5,707.8 35.4,707.3 36.3,706.95 37.2,707.46 38.1,707.53 39,707.12 39.9,707.4 40.8,707.8 41.7,707.3 42.6,706.88 43.5,706.47 44.4,707.02 45.3,706.71 46.2,706.28 47.1,706.47 48,706.61 48.9,706.57 49.8,707.33 50.7,707.06 51.6,706.61 52.5,706.29 53.4,706.59 54.3,706.46 55.2,706.92 56.1,707.03 57,707.2 57.9,707.05 58.8,707.24 59.7,707.46 60.6,707.36 61.5,707.78 62.4,707.32 63.3,707.33 64.2,707.66 65.1,707.1 66,707.49 66.9,707.28 67.8,707.89 68.7,707.12 69.6,707.68 70.5,707.44 71.4,707.16 72.3,706.3 73.2,706.39 74.1,706.83 75,706.38 75.9,706.85 76.8,706.9 77.7,707.31 78.6,706.85 79.5,706.92 80.4,706.26 81.3,706.63 82.2,706.35 83.1,706.98 84,706.48 84.9,707.4 85.8,707.03 86.7,707.41 87.6,707.36 88.5,706.93 89.4,707.43" fill="none" stroke="#a0a0a0" stroke-width="0.75" stroke-linejoin="round"/>
<polyline points="16.5,712.62 17.4,712.94 18.3,713.1 19.2,713.26 20.1,712.83 21,713.06 21.9,712.57 22.8,712.96 23.7,713.25 24.6,713.95 25.5,714.03 26.4,713.96 27.3,713.35 28.2,713.53 29.1,713.63 30,713.03 30.9,713.23 31.8,713.14 32.7,712.83 33.6,713.82 34.5,713.72 35.4,713.15 36.3,713.37 37.2,712.84 38.1,712.66 39,712.59 39.9,712.26 40.8,712.32 41.7,712.49 42.6,712.91 43.5,712.68 44.4,712.7 45.3,713.14 46.2,712.67 47.1,713.1 48,712.68 48.9,712.85 49.8,712.65 50.7,713.33 51.6,712.94 52.5,713.21 53.4,713.29 54.3,713.81 55.2,713.74 56.1,713.11 57,713.2 57.9,713.55 58.8,713.4 59.7,713.08 60.6,713.35 61.5,713.38 62.4,713.33 63.3,713.44 64.2,712.9 65.1,713.4 66,712.73 66.9,712.68 67.8,712.8 68.7,712.99 69.6,713.17 70.5,712.86 71.4,712.82 72.3,712.8 73.2,712.28 74.1,712.45 75,712.61 75.9,712.87 76.8,712.83 77.7,712.94 78.6,713.15 79.5,712.84 80.4,713.24 81.3,713.26 82.2,713.46 83.1,712.86 84,713.03 84.9,713.17 85.8,713.55 86.7,713.77 87.6,713.78 88.5,713.5 89.4,714.07" fill="none" stroke="#a0a0a0" stroke-width="0.75" stroke-linejoin="round"/>
<polyline points="16.5,719.34 17.4,719.22 18.3,718.63 19.2,718.94 20.1,719.09 21,718.7 21.9,718.98 22.8,719.22 23.7,718.73 24.6,719.4 25.5,719.01 26.4,718.46 27.3,718.2 28.2,718.27 29.1,718.61 30,718.88 30.9,718.8 31.8,719.6 32.7,719.29 33.6,719.48 34.5,719.15 35.4,719.82 36.3,718.96 37.2,719.59 38.1,719.3 39,719.45 39.9,719.64 40.8,719.55 41.7,720.23 42.6,720.28 43.5,719.97 44.4,719.55 45.3,718.87 46.2,719.31 47.1,718.74 48,719.31 48.9,718.81 49.8,719.2 50.7,719.47 51.6,718.83 52.5,719 53.4,718.36 54.3,718.12 55.2,718.13 56.1,718.86 57,718.95 57.9,718.91 58.8,718.82 59.7,719.32 60.6,719.45 61.5,719.1 62.4,719.2 63.3,719.3 64.2,718.56 65.1,718.81 66,719.23 66.9,719.17 67.8,719.62 68.7,719.93 69.6,719.59 70.5,719.79 71.4,719.37 72.3,719.44 73.2,719.08 74.1,719.3 75,718.81 75.9,719.48 76.8,719.1 77.7,719.85 78.6,719.44 79.5,719.13 80.4,718.82 81.3,718.77 82.2,718.67 83.1,718.69 84,718.77 84.9,718.7 85.8,719.34 86.7,719.32 87.6,719.36 88.5,718.89 89.4,718.79" fill="none" stroke="#a0a0a0" stroke-width="0.75" stroke-linejoin="round"/>
<text x="27.55" y="735.2" font-size="8.5" fill="#4a4444" textLength="39" lengthAdjust="spacingAndGlyphs">[1281,18,1]</text>
<path d="M95.2 684.45L98.8 684.45L98.8 681.1L107.6 685.4L98.8 689.7L98.8 686.35L95.2 686.35Z" fill="#6b6b6b"/>
<path d="M110.62 629.55Q110.78 623.05 116.83 620.66L140.78 611.22Q146.82 608.83 146.62 615.33L142.53 744.63Q142.32 751.12 136.26 753.47L113.24 762.39Q107.17 764.73 107.34 758.24Z" fill="#3465a4" stroke="#1f3a5f" stroke-width="0.8"/>
<text transform="translate(131.35,729.03) rotate(-90)" x="0" y="0" font-size="12.6" fill="#ffffff" textLength="75.07" lengthAdjust="spacingAndGlyphs">Convolutional</text>
<path d="M145.9 684.45L149.26 684.45L149.26 681.1L157.9 685.4L149.26 689.7L149.26 686.35L145.9 686.35Z" fill="#6b6b6b"/>
<rect x="159.3" y="622.4" width="17.3" height="126.7" rx="3" fill="#729fcf" stroke="#2a3a4f" stroke-width="0.8"/>
<text transform="translate(171.2,719.46) rotate(-90)" x="0" y="0" font-size="11.2" fill="#000" textLength="64.41" lengthAdjust="spacingAndGlyphs">Max Pooling</text>
<path d="M178.5 684.45L181.92 684.45L181.92 681.1L190.7 685.4L181.92 689.7L181.92 686.35L178.5 686.35Z" fill="#6b6b6b"/>
<rect x="192.3" y="644.6" width="17.1" height="80.7" rx="2.5" fill="#b4c7dc" stroke="#666a70" stroke-width="0.8"/>
<text transform="translate(202.74,708.85) rotate(-90)" x="0" y="0" font-size="10.6" fill="#000" textLength="41.02" lengthAdjust="spacingAndGlyphs">Dropout</text>
<text x="193.56" y="733.59" font-size="8.7" fill="#4a4444" textLength="12" lengthAdjust="spacingAndGlyphs">0.5</text>
<text x="147.14" y="610.3" font-size="8.5" fill="#4a4444" textLength="39.41" lengthAdjust="spacingAndGlyphs">[420,18,32]</text>
<text x="102.55" y="774.2" font-size="8.5" fill="#4a4444" textLength="43.1" lengthAdjust="spacingAndGlyphs">[1261,18,32]</text>
<path d="M211.2 684.45L214.56 684.45L214.56 681.1L223.2 685.4L214.56 689.7L214.56 686.35L211.2 686.35Z" fill="#6b6b6b"/>
<path d="M227.43 637Q227.6 631 233.23 628.93L250.57 622.57Q256.2 620.5 256.04 626.5L253.26 730.9Q253.1 736.9 247.47 738.98L229.83 745.52Q224.2 747.6 224.37 741.6Z" fill="#3465a4" stroke="#1f3a5f" stroke-width="0.8"/>
<text transform="translate(243.92,721.39) rotate(-90)" x="0" y="0" font-size="11.8" fill="#ffffff" textLength="69.77" lengthAdjust="spacingAndGlyphs">Convolutional</text>
<path d="M255.9 684.45L259.26 684.45L259.26 681.1L267.9 685.4L259.26 689.7L259.26 686.35L255.9 686.35Z" fill="#6b6b6b"/>
<rect x="269.2" y="634.1" width="14.5" height="103.2" rx="3" fill="#729fcf" stroke="#2a3a4f" stroke-width="0.8"/>
<text transform="translate(279.03,714.12) rotate(-90)" x="0" y="0" font-size="10" fill="#000" textLength="54.86" lengthAdjust="spacingAndGlyphs">Max Pooling</text>
<path d="M284.3 684.45L287.69 684.45L287.69 681.1L296.4 685.4L287.69 689.7L287.69 686.35L284.3 686.35Z" fill="#6b6b6b"/>
<rect x="299.1" y="653.4" width="13.5" height="65.2" rx="2.5" fill="#b4c7dc" stroke="#666a70" stroke-width="0.8"/>
<text transform="translate(308.35,708.81) rotate(-90)" x="0" y="0" font-size="10" fill="#000" textLength="35.18" lengthAdjust="spacingAndGlyphs">Dropout</text>
<text x="300.56" y="725.89" font-size="8.7" fill="#4a4444" textLength="12" lengthAdjust="spacingAndGlyphs">0.5</text>
<text x="256.25" y="626.2" font-size="8.5" fill="#4a4444" textLength="39" lengthAdjust="spacingAndGlyphs">[136,18,64]</text>
<text x="208.34" y="758.8" font-size="8.5" fill="#4a4444" textLength="39.21" lengthAdjust="spacingAndGlyphs">[410,18,64]</text>
<path d="M315.4 684.45L318.68 684.45L318.68 681.1L327.1 685.4L318.68 689.7L318.68 686.35L315.4 686.35Z" fill="#6b6b6b"/>
<path d="M329.88 643.65Q330.02 638.15 335.26 636.5L349.23 632.12Q354.47 630.47 354.38 635.97L352.77 724.08Q352.67 729.58 347.6 731.7L332.5 738.04Q327.43 740.17 327.56 734.67Z" fill="#3465a4" stroke="#1f3a5f" stroke-width="0.8"/>
<text transform="translate(344.15,721.45) rotate(-90)" x="0" y="0" font-size="11.6" fill="#ffffff" textLength="65.07" lengthAdjust="spacingAndGlyphs">Convolutional</text>
<path d="M353.8 684.45L357.19 684.45L357.19 681.1L365.9 685.4L357.19 689.7L357.19 686.35L353.8 686.35Z" fill="#6b6b6b"/>
<rect x="368.1" y="641.3" width="11.5" height="88.7" rx="2.5" fill="#729fcf" stroke="#2a3a4f" stroke-width="0.8"/>
<text transform="translate(375.69,711.85) rotate(-90)" x="0" y="0" font-size="7.5" fill="#000" textLength="43.86" lengthAdjust="spacingAndGlyphs">Max Pooling</text>
<path d="M382.1 684.45L385.6 684.45L385.6 681.1L394.4 685.4L385.6 689.7L385.6 686.35L382.1 686.35Z" fill="#6b6b6b"/>
<rect x="397.8" y="657" width="11" height="56.5" rx="2.5" fill="#b4c7dc" stroke="#666a70" stroke-width="0.8"/>
<text transform="translate(404.26,706.25) rotate(-90)" x="0" y="0" font-size="8.6" fill="#000" textLength="32.72" lengthAdjust="spacingAndGlyphs">Dropout</text>
<text x="397.67" y="720.99" font-size="8.7" fill="#4a4444" textLength="11.89" lengthAdjust="spacingAndGlyphs">0.5</text>
<text x="358.25" y="633.8" font-size="8.5" fill="#4a4444" textLength="38.9" lengthAdjust="spacingAndGlyphs">[44,18,128]</text>
<text x="314.86" y="746.2" font-size="8.5" fill="#4a4444" textLength="42.48" lengthAdjust="spacingAndGlyphs">[134,18,128]</text>
<path d="M410.9 684.45L414.23 684.45L414.23 681.1L422.8 685.4L414.23 689.7L414.23 686.35L410.9 686.35Z" fill="#6b6b6b"/>
<path d="M426.18 651Q426.33 646 431.06 644.38L440.82 641.05Q445.55 639.43 445.45 644.43L444.05 712.75Q443.95 717.75 439.39 719.79L428.41 724.69Q423.85 726.73 424 721.74Z" fill="#3465a4" stroke="#1f3a5f" stroke-width="0.8"/>
<text transform="translate(436.67,717.48) rotate(-90)" x="0" y="0" font-size="8.6" fill="#ffffff" textLength="56.91" lengthAdjust="spacingAndGlyphs">Convolutional</text>
<path d="M445.4 684.45L449 684.45L449 681.1L457.8 685.4L449 689.7L449 686.35L445.4 686.35Z" fill="#6b6b6b"/>
<rect x="459.7" y="650.7" width="9.7" height="70.3" rx="2" fill="#729fcf" stroke="#2a3a4f" stroke-width="0.8"/>
<text transform="translate(466.33,709.17) rotate(-90)" x="0" y="0" font-size="6.7" fill="#000" textLength="38.32" lengthAdjust="spacingAndGlyphs">Max Pooling</text>
<path d="M469.9 684.45L473.26 684.45L473.26 681.1L481.9 685.4L473.26 689.7L473.26 686.35L469.9 686.35Z" fill="#6b6b6b"/>
<rect x="483.2" y="662.3" width="9.5" height="44.6" rx="2" fill="#b4c7dc" stroke="#666a70" stroke-width="0.8"/>
<text transform="translate(489.23,703.6) rotate(-90)" x="0" y="0" font-size="7.4" fill="#000" textLength="26.15" lengthAdjust="spacingAndGlyphs">Dropout</text>
<text x="481.41" y="713.85" font-size="8" fill="#4a4444" textLength="10.51" lengthAdjust="spacingAndGlyphs">0.5</text>
<text x="449.25" y="641.3" font-size="8.5" fill="#4a4444" textLength="38.69" lengthAdjust="spacingAndGlyphs">[14,18,128]</text>
<text x="412.25" y="731.8" font-size="8.5" fill="#4a4444" textLength="38.9" lengthAdjust="spacingAndGlyphs">[42,18,128]</text>
<path d="M495 684.45L498.19 684.45L498.19 681.1L506.4 685.4L498.19 689.7L498.19 686.35L495 686.35Z" fill="#6b6b6b"/>
<path d="M509.34 658.55Q509.45 654.05 513.73 652.66L521.34 650.19Q525.62 648.8 525.49 653.3L523.86 709.73Q523.73 714.23 519.39 715.45L512.21 717.48Q507.88 718.7 507.98 714.2Z" fill="#3465a4" stroke="#1f3a5f" stroke-width="0.8"/>
<text transform="translate(520.02,712.49) rotate(-90)" x="0" y="0" font-size="7.2" fill="#ffffff" textLength="46.51" lengthAdjust="spacingAndGlyphs">Convolutional</text>
<path d="M527.1 684.45L530.38 684.45L530.38 681.1L538.8 685.4L530.38 689.7L530.38 686.35L527.1 686.35Z" fill="#6b6b6b"/>
<rect x="541.4" y="656.9" width="7.2" height="55.8" rx="1.5" fill="#729fcf" stroke="#2a3a4f" stroke-width="0.8"/>
<text transform="translate(545.42,702.65) rotate(-90)" x="0" y="0" font-size="5.5" fill="#000" textLength="30.1" lengthAdjust="spacingAndGlyphs">Max Pooling</text>
<path d="M551.2 684.45L554.48 684.45L554.48 681.1L562.9 685.4L554.48 689.7L554.48 686.35L551.2 686.35Z" fill="#6b6b6b"/>
<rect x="564.3" y="669.6" width="8.1" height="35.8" rx="2" fill="#b4c7dc" stroke="#666a70" stroke-width="0.8"/>
<text transform="translate(570.37,697.62) rotate(-90)" x="0" y="0" font-size="5.3" fill="#000" textLength="18.25" lengthAdjust="spacingAndGlyphs">Dropout</text>
<text x="562.69" y="712.15" font-size="8" fill="#4a4444" textLength="11.04" lengthAdjust="spacingAndGlyphs">0.5</text>
<text x="528.54" y="649.6" font-size="8.5" fill="#4a4444" textLength="35.23" lengthAdjust="spacingAndGlyphs">[4,18,128]</text>
<text x="493.05" y="726.8" font-size="8.5" fill="#4a4444" textLength="38.9" lengthAdjust="spacingAndGlyphs">[12,18,128]</text>
<path d="M573.8 684.45L577.08 684.45L577.08 681.1L585.5 685.4L577.08 689.7L577.08 686.35L573.8 686.35Z" fill="#6b6b6b"/>
<rect x="588" y="679.4" width="28.8" height="10.7" rx="2.5" fill="#ec9ca6" stroke="#7a7070" stroke-width="0.8"/>
<text x="589.36" y="673" font-size="8.5" fill="#4a4444" textLength="21.29" lengthAdjust="spacingAndGlyphs">[9216]</text>
<text x="589.37" y="697.76" font-size="8" fill="#6e6a6a" textLength="23.43" lengthAdjust="spacingAndGlyphs">Flatten</text>
<path d="M617.6 684.45L621.5 684.45L621.5 681.1L630.3 685.4L621.5 689.7L621.5 686.35L617.6 686.35Z" fill="#6b6b6b"/>
<rect x="632.1" y="659.9" width="10" height="49.8" rx="0.5" fill="#1e6b3a" stroke="#0f3a1f" stroke-width="0.8"/>
<text transform="translate(638.96,698.63) rotate(-90)" x="0" y="0" font-size="7.1" fill="#ffffff" textLength="22.38" lengthAdjust="spacingAndGlyphs">Dense</text>
<text x="627.14" y="655.5" font-size="8.5" fill="#4a4444" textLength="17.52" lengthAdjust="spacingAndGlyphs">[128]</text>
<path d="M642.1 684.45L645.52 684.45L645.52 681.1L654.3 685.4L645.52 689.7L645.52 686.35L642.1 686.35Z" fill="#6b6b6b"/>
<rect x="655.2" y="670" width="10.2" height="29.6" rx="0.5" fill="#1e6b3a" stroke="#0f3a1f" stroke-width="0.8"/>
<text transform="translate(661.67,696.41) rotate(-90)" x="0" y="0" font-size="5.8" fill="#ffffff" textLength="17.99" lengthAdjust="spacingAndGlyphs">Dense</text>
<text x="654.31" y="665" font-size="8.5" fill="#4a4444" textLength="9.17" lengthAdjust="spacingAndGlyphs">[2]</text>
</svg>
</body></html>
